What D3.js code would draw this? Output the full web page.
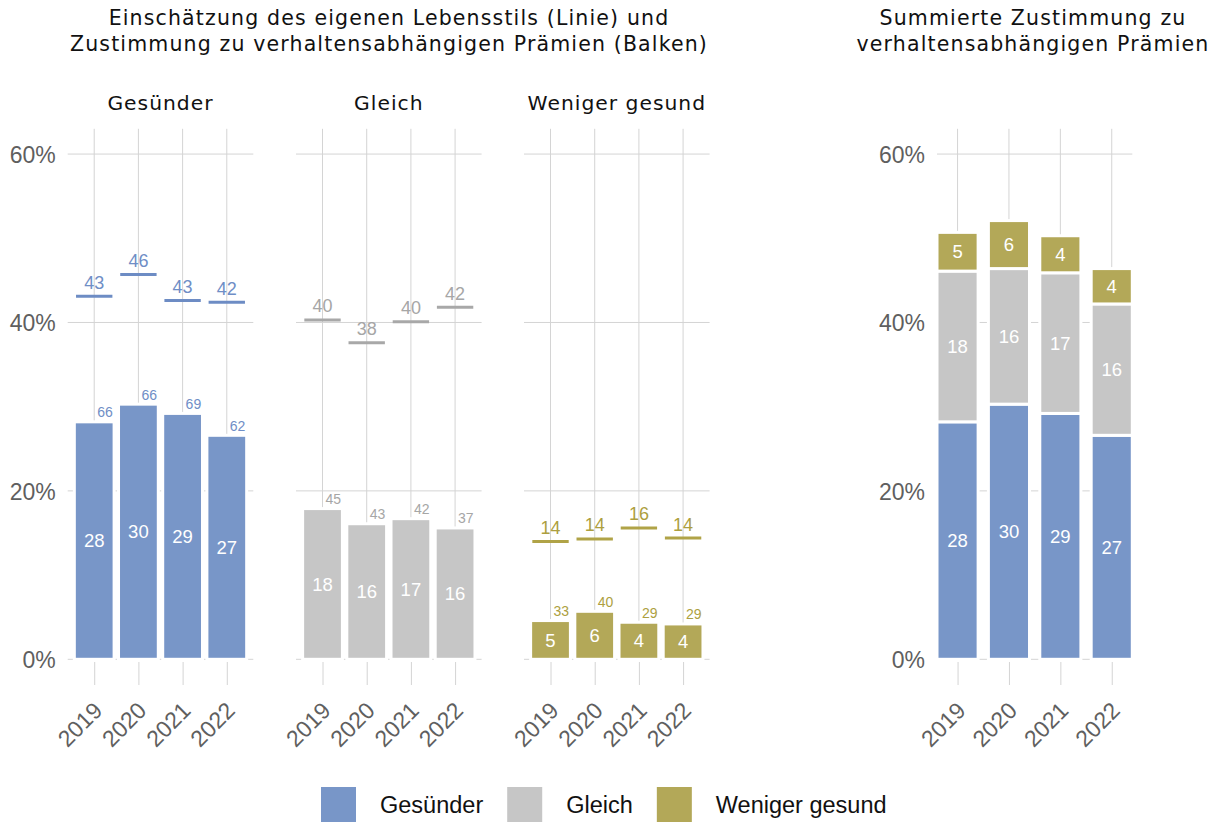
<!DOCTYPE html>
<html lang="de">
<head>
<meta charset="utf-8">
<script src="https://cdn.jsdelivr.net/npm/d3@7"></script>
<style>
  html, body { margin: 0; padding: 0; background: #ffffff; }
  svg { display: block; }
</style>
</head>
<body>
<svg id="chart" width="1216" height="823"></svg>
<script>
// Survey years and groups of self-assessed lifestyle
const years = ["2019", "2020", "2021", "2022"];
const groups = ["Gesünder", "Gleich", "Weniger gesund"];

// Share of respondents rating their own lifestyle (line), in %
const lifestyleGesuender = [43.1, 45.7, 42.6, 42.4];
const lifestyleGleich = [40.3, 37.6, 40.1, 41.8];
const lifestyleWeniger = [14.0, 14.3, 15.6, 14.4];

// Share of all respondents approving behaviour-based premiums (bars), in %
const approvalGesuender = [28.2, 30.3, 29.2, 26.6];
const approvalGleich = [17.9, 16.1, 16.7, 15.6];
const approvalWeniger = [4.6, 5.7, 4.4, 4.2];

// Approval within each lifestyle group, in %
const withinGesuender = [66, 66, 69, 62];
const withinGleich = [45, 43, 42, 37];
const withinWeniger = [33, 40, 29, 29];

// Value axis ticks
const yTicks = [0, 20, 40, 60];

// Group colours
const fillColors = ["#7896c8", "#c6c6c6", "#b3a858"];
const lineColors = ["#6d8cc4", "#a8a8a8", "#b0a347"];
const labelColors = ["#6f8ec6", "#a6a6a6", "#ad9f3f"];

const facets = [
  { name: groups[0], line: lifestyleGesuender, bar: approvalGesuender, within: withinGesuender },
  { name: groups[1], line: lifestyleGleich, bar: approvalGleich, within: withinGleich },
  { name: groups[2], line: lifestyleWeniger, bar: approvalWeniger, within: withinWeniger }
];

const svg = d3.select("#chart");
const fmt = d3.format(".0f");
const gridColor = "#d4d4d4";
const axisTextColor = "#5f5f5f";
const titleFont = "'DejaVu Sans', sans-serif";
const bodyFont = "'Liberation Sans', Arial, Helvetica, sans-serif";

const y = d3.scaleLinear().domain([0, 63]).range([659.3, 128.8]);

// Shared drawing of panel background: grid, ticks, axis labels
function drawFrame(g, x, x0, x1) {
  g.append("g").selectAll("line").data(yTicks).join("line")
    .attr("x1", x0).attr("x2", x1)
    .attr("y1", d => y(d)).attr("y2", d => y(d))
    .attr("stroke", gridColor).attr("stroke-width", 1);
  g.append("g").selectAll("line").data(years).join("line")
    .attr("x1", d => x(d)).attr("x2", d => x(d))
    .attr("y1", y(63)).attr("y2", y(0))
    .attr("stroke", gridColor).attr("stroke-width", 1);

  const xAxis = g.append("g")
    .attr("transform", "translate(0,662)")
    .call(d3.axisBottom(x).tickSize(23).tickSizeOuter(0));
  xAxis.select(".domain").remove();
  xAxis.selectAll(".tick line").attr("stroke", gridColor).attr("stroke-width", 1);
  xAxis.selectAll(".tick text")
    .attr("x", 9).attr("y", 50).attr("dy", 0)
    .attr("transform", "rotate(-45 9 50)")
    .attr("text-anchor", "end")
    .attr("fill", axisTextColor)
    .style("font-family", bodyFont)
    .style("font-size", "23px");
}

function drawYAxis(g, x0) {
  const yAxis = g.append("g")
    .attr("transform", `translate(${x0},0)`)
    .call(d3.axisLeft(y).tickValues(yTicks).tickFormat(d => d + "%").tickSize(0).tickPadding(12));
  yAxis.select(".domain").remove();
  yAxis.selectAll(".tick text")
    .attr("fill", axisTextColor)
    .attr("dy", "0.36em")
    .style("font-family", bodyFont)
    .style("font-size", "23px");
}

// ---- Faceted panels: lifestyle (line) and approval (bars) ----
const facetX0 = [67.7, 296, 524];
const facetW = 185.6;

drawYAxis(svg.append("g"), facetX0[0]);

facets.forEach((f, k) => {
  const x0 = facetX0[k];
  const x = d3.scalePoint().domain(years).range([x0, x0 + facetW]).padding(0.6);
  const bw = x.step() * 0.9;
  const g = svg.append("g");
  drawFrame(g, x, x0, x0 + facetW);

  const rows = years.map((yr, i) => ({ year: yr, bar: f.bar[i], line: f.line[i], within: f.within[i] }));

  g.append("g").selectAll("rect").data(rows).join("rect")
    .attr("x", d => x(d.year) - bw / 2)
    .attr("y", d => y(d.bar))
    .attr("width", bw)
    .attr("height", d => y(0) - y(d.bar))
    .attr("fill", fillColors[k])
    .attr("stroke", "#ffffff").attr("stroke-width", 3);

  const lw = bw - 3.4;
  g.append("g").selectAll("line").data(rows).join("line")
    .attr("x1", d => x(d.year) - lw / 2)
    .attr("x2", d => x(d.year) + lw / 2)
    .attr("y1", d => y(d.line)).attr("y2", d => y(d.line))
    .attr("stroke", lineColors[k]).attr("stroke-width", 3);

  // lifestyle value above each line
  g.append("g").selectAll("text").data(rows).join("text")
    .attr("x", d => x(d.year))
    .attr("y", d => y(d.line) - 7.5)
    .attr("text-anchor", "middle")
    .attr("fill", labelColors[k])
    .style("font-family", bodyFont).style("font-size", "18px")
    .text(d => fmt(d.line));

  // approval value inside each bar
  g.append("g").selectAll("text").data(rows).join("text")
    .attr("x", d => x(d.year))
    .attr("y", d => y(d.bar / 2))
    .attr("dy", "0.36em")
    .attr("text-anchor", "middle")
    .attr("fill", "#ffffff")
    .style("font-family", bodyFont).style("font-size", "18.5px")
    .text(d => fmt(d.bar));

  // approval within the group, at the top right of each bar
  g.append("g").selectAll("text").data(rows).join("text")
    .attr("x", d => x(d.year) + 3)
    .attr("y", d => y(d.bar) - 4.5)
    .attr("text-anchor", "start")
    .attr("fill", labelColors[k])
    .style("font-family", bodyFont).style("font-size", "14px")
    .text(d => fmt(d.within));

  // facet strip label
  svg.append("text")
    .attr("x", x0 + facetW / 2)
    .attr("y", 110)
    .attr("text-anchor", "middle")
    .attr("fill", "#111111")
    .style("font-family", titleFont).style("font-size", "20.3px")
    .style("letter-spacing", "1px")
    .text(f.name);
});

// ---- Stacked panel: summed approval ----
const sumX0 = 937, sumW = 195.3;
const xs = d3.scalePoint().domain(years).range([sumX0, sumX0 + sumW]).padding(0.4);
const sbw = xs.step() * 0.8;
const gs = svg.append("g");
drawFrame(gs, xs, sumX0, sumX0 + sumW);
drawYAxis(gs, sumX0);

const stackTable = years.map((yr, i) => ({
  year: yr,
  [groups[0]]: approvalGesuender[i],
  [groups[1]]: approvalGleich[i],
  [groups[2]]: approvalWeniger[i]
}));
const series = d3.stack().keys(groups)(stackTable);

series.forEach((s, k) => {
  gs.append("g").selectAll("rect").data(s).join("rect")
    .attr("x", d => xs(d.data.year) - sbw / 2)
    .attr("y", d => y(d[1]))
    .attr("width", sbw)
    .attr("height", d => y(d[0]) - y(d[1]))
    .attr("fill", fillColors[k])
    .attr("stroke", "#ffffff").attr("stroke-width", 3);
  gs.append("g").selectAll("text").data(s).join("text")
    .attr("x", d => xs(d.data.year))
    .attr("y", d => y((d[0] + d[1]) / 2))
    .attr("dy", "0.36em")
    .attr("text-anchor", "middle")
    .attr("fill", "#ffffff")
    .style("font-family", bodyFont).style("font-size", "18.5px")
    .text(d => fmt(d[1] - d[0]));
});

// ---- Titles ----
function title(lines, cx) {
  lines.forEach((t, i) => {
    svg.append("text")
      .attr("x", cx).attr("y", 25 + i * 25.8)
      .attr("text-anchor", "middle")
      .attr("fill", "#111111")
      .style("font-family", titleFont).style("font-size", "20.5px")
      .style("letter-spacing", "1.15px")
      .text(t);
  });
}
title(["Einschätzung des eigenen Lebensstils (Linie) und",
       "Zustimmung zu verhaltensabhängigen Prämien (Balken)"], 389);
title(["Summierte Zustimmung zu", "verhaltensabhängigen Prämien"], 1033);

// ---- Legend ----
const legend = svg.append("g");
let lx = 321;
groups.forEach((name, k) => {
  legend.append("rect")
    .attr("x", lx).attr("y", 787).attr("width", 35).attr("height", 35)
    .attr("fill", fillColors[k]);
  const t = legend.append("text")
    .attr("x", lx + 59).attr("y", 813)
    .attr("fill", "#111111")
    .style("font-family", bodyFont).style("font-size", "23.5px")
    .text(name);
  lx = lx + 59 + t.node().getComputedTextLength() + 24;
});
</script>
</body>
</html>
